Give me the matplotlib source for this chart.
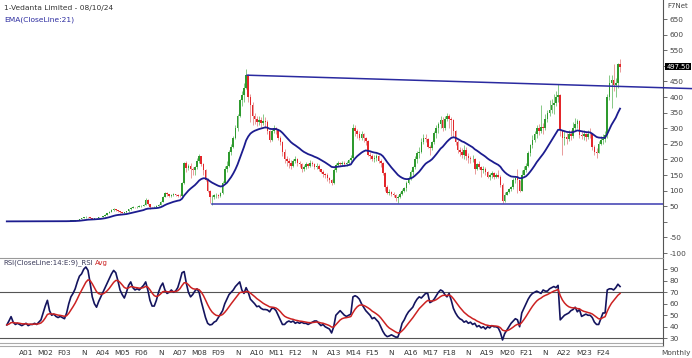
import matplotlib
matplotlib.use('Agg')
import matplotlib.pyplot as plt
import matplotlib.transforms as mtransforms
import numpy as np
import pandas as pd

plt.rcParams['font.family'] = ['DejaVu Sans']

# monthly bars, Nov-2000 .. Oct-2024 (one row per calendar year)
close = [
    1.4, 1.5,
    1.6, 1.5, 1.4, 1.4, 1.5, 1.4, 1.3, 1.3, 1.2, 1.3, 1.3, 1.4,
    1.5, 1.6, 1.7, 2.0, 2.3, 2.2, 2.1, 2.1, 2.0, 2.1, 2.2, 2.3,
    2.2, 2.2, 2.4, 2.7, 3.2, 4.0, 5.0, 6.5, 8.5, 11.0, 14.0, 16.0,
    15.0, 12.0, 10.5, 11.0, 12.5, 14.0, 16.0, 19.0, 23.0, 28.0, 33.0, 38.0,
    40, 38, 34, 31, 29, 30, 34, 40, 45, 47, 46, 48,
    50, 52, 55, 70, 58, 47, 46, 48, 50, 55, 65, 80,
    92, 88, 84, 86, 88, 86, 84, 82, 124, 187, 172, 178,
    170, 165, 175, 195, 210, 185, 165, 135, 100, 78, 80, 85,
    85, 82, 92, 125, 170, 180, 225, 240, 270, 300, 340, 390,
    405, 430, 470, 400, 375, 340, 330, 320, 325, 318, 322, 320,
    290, 262, 290, 300, 295, 270, 255, 225, 200, 195, 190, 180,
    195, 200, 190, 185, 170, 175, 185, 180, 190, 185, 175, 180,
    168, 160, 152, 150, 140, 135, 125, 165, 182, 188, 185, 190,
    185, 190, 198, 205, 300, 292, 282, 270, 280, 268, 258, 215,
    212, 200, 205, 210, 195, 190, 155, 112, 92, 95, 88, 86,
    75, 78, 90, 100, 108, 125, 140, 160, 175, 200, 220, 225,
    255, 270, 265, 240, 235, 255, 285, 300, 315, 325, 300, 330,
    338, 330, 325, 290, 255, 230, 225, 215, 230, 210, 205, 200,
    200, 170, 185, 175, 165, 170, 160, 145, 150, 155, 145, 150,
    145, 118, 68, 85, 95, 105, 110, 135, 140, 135, 100, 150,
    165, 180, 220, 245, 262, 280, 300, 290, 305, 300, 330, 350,
    360, 375, 380, 400, 405, 295, 268, 272, 265, 280, 275, 300,
    315, 322, 278, 275, 280, 272, 282, 280, 240, 225, 222, 250,
    262, 265, 278, 400, 445, 455, 440, 445, 505, 497.5,
]
high = [
    1.5, 1.6,
    1.7, 1.6, 1.6, 1.5, 1.6, 1.5, 1.4, 1.4, 1.3, 1.4, 1.4, 1.5,
    1.6, 1.7, 1.8, 2.1, 2.5, 2.4, 2.3, 2.2, 2.2, 2.2, 2.3, 2.4,
    2.4, 2.3, 2.5, 2.8, 3.4, 4.3, 5.4, 7.0, 9.0, 12.0, 15.0, 17.5,
    17, 15.5, 12.5, 12, 13.5, 15, 17, 20, 24.5, 29.5, 35, 41,
    44, 41, 39, 35, 32, 32, 35, 42, 47, 50, 49, 50,
    53, 55, 58, 75, 72, 58, 49, 50, 53, 57, 68, 84,
    96, 95, 90, 89, 92, 90, 89, 88, 128, 192, 195, 185,
    190, 175, 180, 205, 218, 212, 188, 168, 140, 102, 86, 90,
    92, 90, 96, 132, 180, 195, 230, 248, 275, 310, 345, 395,
    420, 445, 489, 475, 410, 385, 350, 340, 340, 335, 345, 335,
    325, 295, 298, 310, 305, 298, 275, 258, 232, 212, 205, 198,
    200, 212, 205, 195, 188, 182, 192, 188, 198, 195, 190, 188,
    185, 170, 165, 158, 155, 145, 138, 172, 188, 195, 192, 195,
    194, 196, 202, 215, 314, 310, 298, 290, 290, 285, 272, 262,
    225, 218, 215, 218, 215, 200, 192, 160, 118, 105, 100, 95,
    90, 85, 95, 105, 112, 130, 148, 165, 180, 210, 228, 240,
    270, 280, 282, 270, 245, 260, 290, 310, 320, 338, 335, 338,
    350, 345, 335, 330, 295, 262, 240, 238, 245, 240, 222, 212,
    215, 205, 190, 195, 180, 178, 175, 162, 158, 162, 160, 158,
    165, 150, 125, 95, 100, 108, 115, 140, 145, 170, 135, 165,
    178, 190, 228, 250, 278, 292, 310, 315, 375, 318, 345, 360,
    390, 395, 410, 420, 441, 410, 285, 290, 285, 295, 295, 320,
    333, 330, 325, 290, 295, 285, 295, 300, 285, 245, 235, 258,
    275, 280, 290, 410, 470, 470, 506, 460, 510, 523,
]
low = [
    1.3, 1.4,
    1.4, 1.4, 1.3, 1.3, 1.3, 1.3, 1.2, 1.2, 1.1, 1.2, 1.2, 1.3,
    1.4, 1.5, 1.6, 1.7, 2.0, 2.1, 2.0, 2.0, 1.9, 2.0, 2.1, 2.2,
    2.1, 2.1, 2.2, 2.4, 2.7, 3.2, 4.0, 5.0, 6.5, 8.5, 11, 13.5,
    13.5, 11, 9.5, 10, 10.5, 12.5, 14, 15.5, 18.5, 22.5, 27.5, 32,
    36, 35, 32, 29, 27, 28, 29, 33, 39, 43, 43, 45,
    46, 48, 50, 54, 55, 42, 43, 44, 47, 50, 54, 64,
    78, 84, 79, 81, 84, 83, 80, 78, 80, 120, 160, 165,
    140, 150, 150, 170, 190, 178, 150, 130, 95, 60, 55, 72,
    75, 76, 78, 90, 125, 160, 175, 215, 235, 265, 290, 335,
    370, 385, 425, 385, 320, 310, 315, 308, 310, 305, 310, 300,
    280, 255, 258, 285, 280, 262, 245, 210, 190, 180, 172, 170,
    175, 190, 180, 175, 160, 162, 170, 172, 175, 178, 168, 170,
    162, 155, 145, 140, 132, 125, 118, 120, 160, 178, 178, 180,
    178, 180, 185, 192, 200, 275, 268, 262, 262, 255, 245, 210,
    200, 195, 192, 195, 188, 175, 150, 100, 88, 85, 84, 80,
    66, 60, 75, 85, 95, 100, 120, 135, 150, 170, 190, 205,
    220, 250, 255, 235, 215, 230, 250, 270, 285, 300, 290, 295,
    322, 300, 275, 272, 245, 222, 210, 205, 200, 198, 190, 188,
    192, 152, 165, 170, 145, 155, 150, 142, 135, 142, 138, 142,
    140, 112, 60, 65, 85, 92, 100, 105, 125, 92, 95, 100,
    150, 160, 175, 210, 235, 255, 270, 278, 285, 280, 295, 320,
    340, 350, 345, 370, 385, 275, 213, 245, 250, 260, 262, 270,
    295, 300, 270, 265, 262, 260, 265, 270, 230, 215, 206, 220,
    245, 250, 255, 270, 390, 365, 420, 400, 430, 480,
]
# RSI(14)
rsi = [
    41.6, 45,
    48.8, 44, 42, 43, 42, 41, 42, 43, 41, 42, 42, 43,
    42, 44, 46, 52, 58, 63, 54, 50, 51, 49, 48, 49,
    48, 47, 52, 60, 66, 69, 73, 79, 84, 86, 90, 92,
    89, 78, 66, 60, 57, 62, 66, 70, 74, 78, 82, 86,
    89, 87, 80, 72, 68, 65, 70, 76, 79, 74, 72, 73,
    72, 74, 76, 79, 72, 63, 58, 58, 63, 70, 75, 78,
    72, 69, 70, 72, 70, 71, 74, 80, 87, 88, 78, 70,
    66, 68, 71, 73, 70, 62, 55, 48, 43, 41.6, 42, 44,
    45, 48, 51, 54, 60, 64, 68, 70, 72, 75, 77, 79,
    72, 69, 74, 70, 64, 62, 60, 57.5, 58, 56, 55, 55,
    54.6, 53, 56, 56, 54, 50, 46, 42, 42, 44, 45, 44,
    45, 43, 44, 43, 44, 43, 43, 42, 43, 44, 45, 45,
    43, 41, 42, 40, 39, 38, 34.6, 40, 50, 52, 54, 52,
    50, 49, 50, 51, 66, 67, 66, 64, 60, 57, 54, 52,
    50, 47, 48, 46, 44, 40, 36, 33, 31.4, 32, 33, 32,
    31, 31, 36, 43, 46, 50, 53, 55, 57, 61, 64, 66,
    65, 67, 69, 69, 61, 62, 64, 67, 70, 72, 71, 68,
    66, 69, 63, 56, 52, 49, 47, 46, 44, 45, 43, 44,
    42, 43, 40, 41, 39, 40, 38, 40, 39, 41, 40, 40,
    39, 35, 28.5, 34, 37, 40, 43, 45, 47, 46, 40, 52,
    56, 60, 64, 67, 69, 70, 71, 70, 69, 72, 71, 71,
    73, 74, 75, 74, 76, 46, 48, 50, 51, 52, 54, 55,
    57, 53, 55, 49, 50, 51, 50, 50, 48, 44, 42, 42,
    47, 52, 52, 72, 73, 73, 72, 74, 77, 75,
]
tick_labels = ['A01', 'M02', 'F03', 'N', 'A04', 'M05', 'F06', 'N', 'A07', 'M08',
               'F09', 'N', 'A10', 'M11', 'F12', 'N', 'A13', 'M14', 'F15', 'N',
               'A16', 'M17', 'F18', 'N', 'A19', 'M20', 'F21', 'N', 'A22', 'M23', 'F24']
support_level = 56
resistance = [(112.5, 470), (320.6, 427)]   # (bar index, price)

dates = pd.period_range('2000-11', periods=len(close), freq='M')
x = np.arange(len(dates))
c = np.array(close, dtype=float)
o = np.r_[c[0], c[:-1]]
h = np.array(high, dtype=float)
l = np.array(low, dtype=float)
ema21 = pd.Series(c).ewm(span=21, adjust=False).mean()
rsi_s = pd.Series(rsi, dtype=float)
rsi_avg = rsi_s.ewm(span=9, adjust=False).mean()

W, H = 692, 358
fig = plt.figure(figsize=(W / 100, H / 100), dpi=100)
fig.patch.set_facecolor('white')

right = 663 / W
ax = fig.add_axes([0, 1 - 257 / H, right, 257 / H])
ax2 = fig.add_axes([0, 1 - 345.5 / H, right, (345.5 - 258) / H], sharex=ax)
XMAX = 307.1

GREEN, RED = '#2e9a2e', '#e3262a'
up = c >= o
ax.vlines(x[up], l[up], h[up], color='#86c986', lw=0.7, zorder=2)
ax.vlines(x[~up], l[~up], h[~up], color='#e99a9a', lw=0.7, zorder=2)
body = np.maximum(np.abs(c - o), 1.5)
ax.bar(x, body, bottom=np.minimum(o, c), width=0.75,
       color=np.where(up, GREEN, RED), linewidth=0, zorder=3)
ax.plot(x, ema21, color='#1c1c8f', lw=1.3, zorder=4)

# trend lines
start = np.argmin(np.where(x > 90, l, 1e9))
ax.plot([start, XMAX], [support_level, support_level],
        color='#3a3ab0', lw=1.1, zorder=4)
ax.plot([p[0] for p in resistance], [p[1] for p in resistance],
        color='#2a2aa0', lw=1.1, clip_on=False, zorder=4)

ax.set_xlim(-3.18, XMAX)
ax.set_ylim(-112.8, 711)
for s in ['top', 'left', 'bottom']:
    ax.spines[s].set_visible(False)
ax.spines['right'].set_color('#555555')
ax.spines['right'].set_linewidth(0.8)
ax.yaxis.tick_right()
yt = np.arange(-100, 651, 50)
ax.set_yticks(yt)
ax.set_yticklabels(['' if v in (0, 500) else str(v) for v in yt])
ax.tick_params(axis='y', length=3, width=0.6, colors='#555555', labelsize=5.3,
               pad=1.5, labelcolor='#444444')
ax.tick_params(axis='x', length=0, labelbottom=False)

# last price flag
tr = mtransforms.blended_transform_factory(ax.transAxes, ax.transData)
ax.text(1.005, c[-1], f'{c[-1]:.2f}', transform=tr, fontsize=4.9, color='white',
        va='center', ha='left', zorder=6,
        bbox=dict(boxstyle='square,pad=0.12', facecolor='black', edgecolor='none'))

fig.text(4 / W, 1 - 8 / H, '1-Vedanta Limited - 08/10/24', fontsize=5.4,
         color='#333333', va='center')
fig.text(4 / W, 1 - 20 / H, 'EMA(CloseLine:21)', fontsize=5.4, color='#2d2da0', va='center')
fig.text(667 / W, 1 - 6 / H, 'F7Net', fontsize=5.0, color='#444444', va='center')

# RSI panel
ax2.plot(x, rsi_s, color='#14145e', lw=1.2, zorder=3)
ax2.plot(x, rsi_avg, color='#cc2222', lw=1.1, zorder=4)
ax2.axhline(70, color='#555555', lw=0.8, zorder=1)
ax2.axhline(30, color='#555555', lw=0.8, zorder=1)
ax2.axhline(25.5, color='#aaaaaa', lw=0.8, zorder=1)
ax2.set_ylim(23.7, 99.8)
ax2.spines['left'].set_visible(False)
ax2.spines['top'].set_color('#999999')
ax2.spines['bottom'].set_color('#aaaaaa')
ax2.spines['right'].set_color('#555555')
for s in ['top', 'bottom', 'right']:
    ax2.spines[s].set_linewidth(0.8)
ax2.yaxis.tick_right()
ax2.set_yticks(np.arange(30, 91, 10))
ax2.tick_params(axis='y', length=3, width=0.6, colors='#555555', labelsize=5.3,
                pad=1.5, labelcolor='#444444')
ax2.set_xticks(np.arange(9, len(close), 9))
ax2.set_xticklabels(tick_labels)
ax2.tick_params(axis='x', length=0, labelsize=5.3, pad=3, labelcolor='#333333')

fig.text(3 / W, 1 - 263 / H, 'RSI(CloseLine:14:E:9)_RSI', fontsize=5.0,
         color='#3a3a5a', va='center')
fig.text(95 / W, 1 - 263 / H, 'Avg', fontsize=5.0, color='#cc2222', va='center')
fig.text(661 / W, 1 - 353 / H, 'Monthly', fontsize=5.3, color='#444444', va='center')

fig.savefig('out.png', dpi=100)
